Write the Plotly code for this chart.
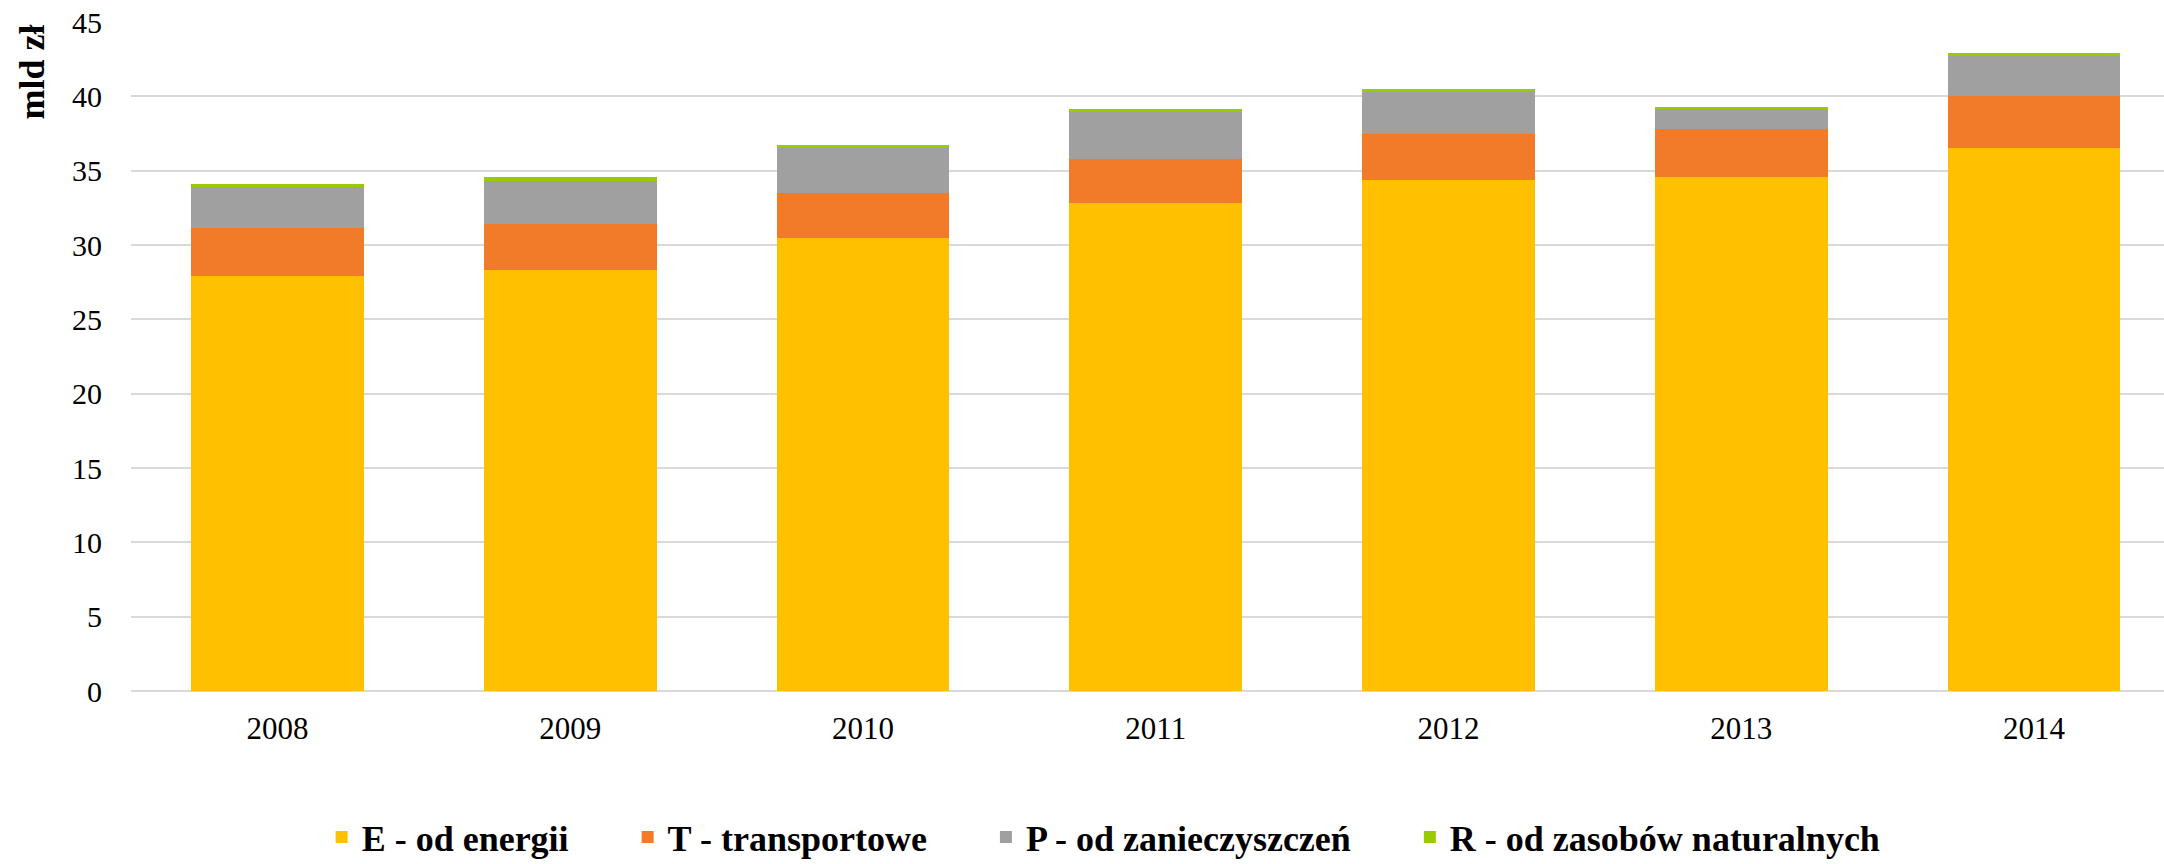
import plotly.graph_objects as go

years = ["2008", "2009", "2010", "2011", "2012", "2013", "2014"]

# mld zł
energia = [27.9, 28.3, 30.5, 32.8, 34.4, 34.6, 36.5]
transport = [3.25, 3.13, 3.03, 2.96, 3.1, 3.23, 3.5]
zanieczyszczenia = [2.76, 2.87, 3.02, 3.16, 2.76, 1.34, 2.69]
zasoby = [0.2, 0.27, 0.21, 0.2, 0.2, 0.14, 0.2]

series_names = [
    "E - od energii",
    "T - transportowe",
    "P - od zanieczyszczeń",
    "R - od zasobów naturalnych",
]
series_values = [energia, transport, zanieczyszczenia, zasoby]
colors = ["#FFC000", "#F17B28", "#A0A0A0", "#99CC00"]

font_family = "Liberation Serif"
pad = "\u00a0" * 6

fig = go.Figure()
for i, (name, vals, col) in enumerate(zip(series_names, series_values, colors)):
    label = "<b>" + name + "</b>" + (pad if i < 3 else "")
    fig.add_trace(go.Bar(
        x=years,
        y=vals,
        name=label,
        hovertemplate=name + ": %{y}<extra></extra>",
        marker=dict(color=col, line=dict(width=0)),
        width=0.59,
    ))

fig.update_layout(
    barmode="stack",
    width=2164,
    height=864,
    paper_bgcolor="white",
    plot_bgcolor="white",
    margin=dict(l=131, r=0, t=22, b=173, autoexpand=False),
    font=dict(family=font_family, color="black", size=30),
    showlegend=True,
    legend=dict(
        orientation="h",
        xref="container",
        yref="container",
        x=0.51,
        xanchor="center",
        y=0.031,
        yanchor="middle",
        font=dict(family=font_family, size=36, color="black"),
        traceorder="normal",
    ),
    xaxis=dict(
        type="category",
        range=[-0.5, 6.444],
        showgrid=False,
        showline=False,
        ticks="",
        tickfont=dict(family=font_family, size=31),
        ticklabelstandoff=16,
        automargin=False,
    ),
    yaxis=dict(
        range=[0, 45],
        dtick=5,
        showgrid=True,
        gridcolor="#D9D9D9",
        gridwidth=2,
        zeroline=True,
        zerolinecolor="#D9D9D9",
        zerolinewidth=2,
        showline=False,
        ticks="",
        tickfont=dict(family=font_family, size=30),
        ticklabelstandoff=28,
        ticklabeloverflow="allow",
        automargin=False,
    ),
    annotations=[dict(
        text="<b>mld zł</b>",
        textangle=-90,
        xref="paper", yref="paper",
        x=-0.0487, y=1.0,
        xanchor="center", yanchor="top",
        yshift=0,
        showarrow=False,
        font=dict(family=font_family, size=36, color="black"),
    )],
)

# drop the default body margin so the figure fills the window exactly
fig.write_html(
    "out.html",
    config={"displayModeBar": False},
    post_script="document.body.style.margin='0';document.body.style.overflow='hidden';",
)
